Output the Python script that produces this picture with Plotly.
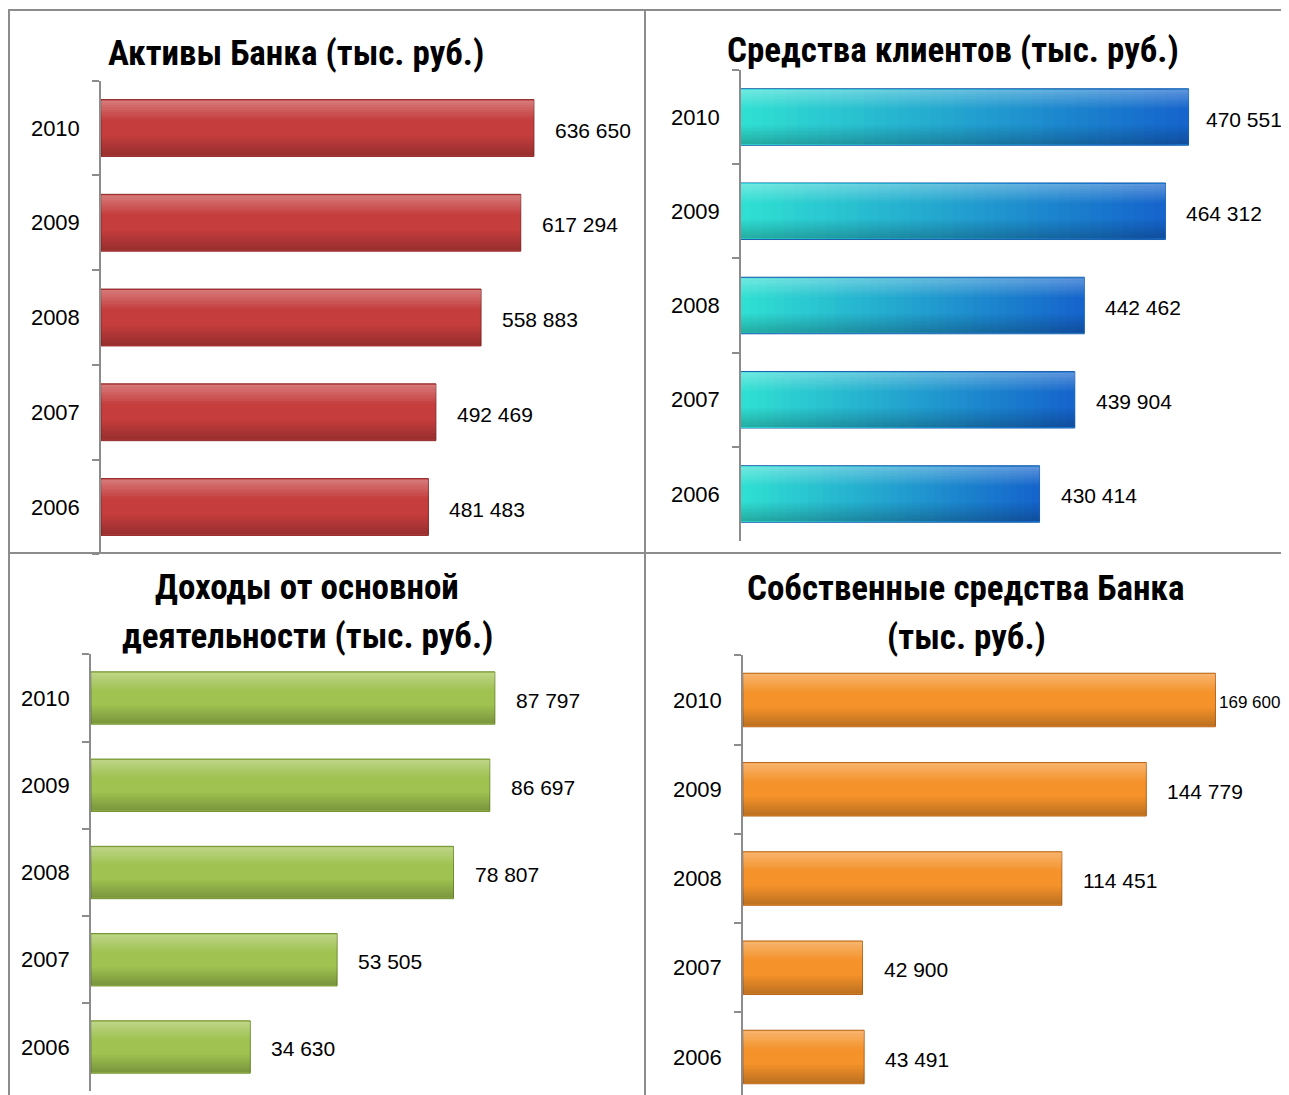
import plotly.graph_objects as go

# page has an 8px body margin: figure pixel = screen pixel - 8
OFF = 8
W, H = 1289 - OFF, 1095 - OFF

years = ["2006", "2007", "2008", "2009", "2010"]

assets = [481483, 492469, 558883, 617294, 636650]
client_funds = [430414, 439904, 442462, 464312, 470551]
core_income = [34630, 53505, 78807, 86697, 87797]
own_funds = [43491, 42900, 114451, 144779, 169600]

title_assets = ["Активы Банка (тыс. руб.)"]
title_clients = ["Средства клиентов (тыс. руб.)"]
title_income = ["Доходы от основной", "деятельности (тыс. руб.)"]
title_own = ["Собственные средства Банка", "(тыс. руб.)"]

TITLE_FONT = "Liberation Sans Narrow, Roboto Condensed, Arial Narrow, Liberation Sans, sans-serif"
TEXT_FONT = "Liberation Sans, Arial, sans-serif"
GRAY = "#8c8c8c"


def px_x(p):
    return min(max((p - OFF) / W, 0), 1)


def px_y(p):
    return min(max(1 - (p - OFF) / H, 0), 1)


def fmt(v):
    return f"{v:,}".replace(",", " ")


def lerp_color(c1, c2, t):
    a = [int(c1[i:i + 2], 16) for i in (1, 3, 5)]
    b = [int(c2[i:i + 2], 16) for i in (1, 3, 5)]
    return "rgb(%d,%d,%d)" % tuple(round(a[k] + (b[k] - a[k]) * t) for k in range(3))


panels = [
    dict(vals=assets, title=title_assets, main="#c53d3d", edge="#8e2a2a",
         xdom=(101, 645), xr=(0, 800000), ctop=128, cbot=507,
         title_x=296, title_y=[54], shifts=[19] * 5, lsize=[21] * 5, grad=None),
    dict(vals=client_funds, title=title_clients, main="#1f9ee0", edge="#1b5fae",
         xdom=(741, 1289), xr=(350000, 497600), ctop=117, cbot=494,
         title_x=953, title_y=[50], shifts=[19, 19, 19, 19, 15], lsize=[21] * 5,
         grad=("#1565cc", "#30e2d2")),
    dict(vals=core_income, title=title_income, main="#9fc250", edge="#6f8f2e",
         xdom=(91, 643), xr=(0, 120000), ctop=698, cbot=1047,
         title_x=307, title_y=[587, 636], shifts=[19] * 5, lsize=[21] * 5, grad=None),
    dict(vals=own_funds, title=title_own, main="#f5922a", edge="#b8661a",
         xdom=(743, 1289), xr=(0, 196000), ctop=700, cbot=1057,
         title_x=966, title_y=[588, 637], shifts=[19, 19, 19, 19, 2],
         lsize=[21, 21, 21, 21, 17], grad=None),
]

fig = go.Figure()
annotations = []
layout_axes = {}
BOTTOM = H + OFF  # last visible screen row of the figure

for i, p in enumerate(panels):
    n = "" if i == 0 else str(i + 1)
    xa, ya = "x" + n, "y" + n
    vals = p["vals"]
    xmin = p["xr"][0]

    band = (p["cbot"] - p["ctop"]) / 4
    top = p["ctop"] - 0.5 * band
    bot_full = p["cbot"] + 0.5 * band
    bot = min(bot_full, BOTTOM)
    rmin = -0.5 + (bot_full - bot) / band

    fig.add_trace(go.Bar(
        x=vals, y=years, orientation="h", xaxis=xa, yaxis=ya,
        width=0.6, offset=-0.3, marker=dict(color=p["main"], line=dict(color=p["edge"], width=1)),
        showlegend=False, hoverinfo="x+y"))

    if p["grad"]:
        steps = 40
        for k in range(steps, 0, -1):
            f = k / steps
            fig.add_trace(go.Bar(
                x=[xmin + (v - xmin) * f for v in vals], y=years, orientation="h",
                xaxis=xa, yaxis=ya, width=0.585, offset=-0.2925,
                marker=dict(color=lerp_color(p["grad"][0], p["grad"][1], 1 - f), line=dict(width=0)),
                showlegend=False, hoverinfo="skip"))

    nb = 8
    for k in range(nb):
        a = 0.30 * (1 - k / nb)
        fig.add_trace(go.Bar(
            x=vals, y=years, orientation="h", xaxis=xa, yaxis=ya,
            width=0.025, offset=0.29 - 0.025 * (k + 1),
            marker=dict(color=f"rgba(255,255,255,{a:.3f})", line=dict(width=0)),
            showlegend=False, hoverinfo="skip"))
        b = 0.22 * (1 - k / nb)
        fig.add_trace(go.Bar(
            x=vals, y=years, orientation="h", xaxis=xa, yaxis=ya,
            width=0.025, offset=-0.29 + 0.025 * k,
            marker=dict(color=f"rgba(0,0,0,{b:.3f})", line=dict(width=0)),
            showlegend=False, hoverinfo="skip"))

    for j, (v, s, fs) in enumerate(zip(vals, p["shifts"], p["lsize"])):
        annotations.append(dict(
            x=v, y=j, xref=xa, yref=ya, text=fmt(v), showarrow=False,
            xanchor="left", yanchor="middle", xshift=s, yshift=-2,
            font=dict(family=TEXT_FONT, size=fs, color="#000000")))

    for line, ty in zip(p["title"], p["title_y"]):
        annotations.append(dict(
            x=px_x(p["title_x"]), y=px_y(ty), xref="paper", yref="paper",
            text="<b>" + line + "</b>", showarrow=False, xanchor="center", yanchor="middle",
            font=dict(family=TITLE_FONT, size=35, color="#000000")))

    layout_axes["xaxis" + n] = dict(
        domain=[px_x(p["xdom"][0]), px_x(p["xdom"][1])], range=list(p["xr"]),
        anchor=ya, showline=False, showticklabels=False, showgrid=False, zeroline=False,
        fixedrange=True)
    layout_axes["yaxis" + n] = dict(
        domain=[px_y(bot), px_y(top)], range=[rmin, 4.5],
        anchor=xa, type="category", categoryorder="array", categoryarray=years,
        showline=True, linecolor=GRAY, linewidth=1.5, ticks="outside", ticklen=7,
        tickcolor=GRAY, tickwidth=1.5, tickson="boundaries", showgrid=False,
        ticklabelstandoff=15,
        tickfont=dict(family=TEXT_FONT, size=22, color="#000000"), fixedrange=True)

frame = dict(type="line", xref="paper", yref="paper", line=dict(color=GRAY, width=2))
shapes = [
    dict(frame, x0=px_x(8), x1=1, y0=px_y(10), y1=px_y(10)),
    dict(frame, x0=px_x(9), x1=px_x(9), y0=px_y(10), y1=0),
    dict(frame, x0=px_x(645), x1=px_x(645), y0=px_y(10), y1=0),
    dict(frame, x0=px_x(9), x1=1, y0=px_y(553), y1=px_y(553)),
]

fig.update_layout(
    width=W, height=H, margin=dict(l=0, r=0, t=0, b=0),
    paper_bgcolor="white", plot_bgcolor="rgba(0,0,0,0)",
    barmode="overlay", showlegend=False,
    annotations=annotations, shapes=shapes, **layout_axes)

fig.write_html("out.html")
